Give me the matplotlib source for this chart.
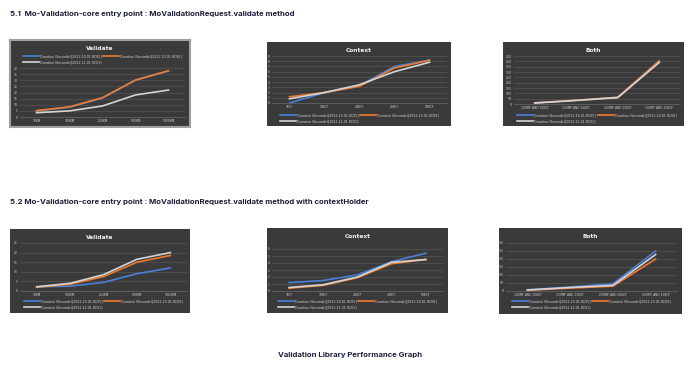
import matplotlib
matplotlib.use("Agg")
import matplotlib.pyplot as plt

# series labels shared by every panel
series_labels = [
    "Duration (Seconds)[2022.10.01 RC05]",
    "Duration (Seconds)[2022.10.01 RC06]",
    "Duration (Seconds)[2022.11.01 RC01]",
]

validate_cats = ["10KM", "100KM", "250KM", "500KM", "1000KM"]
context_cats = ["1KCF", "10KCF", "20KCF", "40KCF", "50KCF"]
both_cats = ["100MF AND 10KCF", "150MF AND 15KCF", "200MF AND 20KCF", "500MF AND 50KCF"]

# 5.1 plain validate
v1_blue = [5.0, 8.0, 15.5, 30.0, 37.5]
v1_orange = [5.2, 8.3, 15.8, 30.2, 37.8]
v1_gray = [3.5, 5.0, 9.0, 18.0, 22.0]
c1_blue = [0.0, 2.0, 3.3, 7.0, 8.2]
c1_orange = [1.2, 2.0, 3.2, 6.7, 8.2]
c1_gray = [0.8, 2.0, 3.5, 6.0, 7.8]
b1_blue = [10, 35, 62, 400]
b1_orange = [11, 36, 63, 405]
b1_gray = [9, 33, 60, 390]

# 5.2 with contextHolder
v2_blue = [2.2, 2.5, 4.5, 9.0, 12.0]
v2_orange = [2.0, 3.5, 7.5, 15.0, 18.5]
v2_gray = [2.2, 4.0, 8.5, 16.5, 20.0]
c2_blue = [1.2, 1.5, 2.3, 4.2, 5.4]
c2_orange = [0.4, 0.8, 1.9, 3.9, 4.5]
c2_gray = [0.5, 0.9, 2.0, 4.1, 4.5]
b2_blue = [8, 25, 45, 250]
b2_orange = [5, 18, 30, 200]
b2_gray = [6, 22, 35, 228]

W, H = 700, 369
fig = plt.figure(figsize=(7, 3.69), dpi=100)
fig.patch.set_facecolor("white")

COLORS = ["#4a7fd8", "#ee7a2e", "#d4d4d4"]
TXT = "#d0d0d0"
NAVY = "#1c1f3b"


def rect(x0, y0, x1, y1):
    # pixel box (top-left origin) -> figure fraction
    return [x0 / W, 1 - y1 / H, (x1 - x0) / W, (y1 - y0) / H]


def chart(panel, plot, title, cats, series, ymax, ystep, legend_top, border=False):
    bg = fig.add_axes(rect(*panel))
    bg.set_facecolor("#3a3a3a")
    bg.set_xticks([])
    bg.set_yticks([])
    for s in bg.spines.values():
        s.set_visible(border)
        s.set_color("#a0a0a0")
        s.set_linewidth(1.5)
    bg.text(0.5, 0.90, title, transform=bg.transAxes, ha="center", va="center",
            color="#f0f0f0", fontsize=4.2, fontweight="bold")

    ax = fig.add_axes(rect(*plot))
    ax.set_facecolor("none")
    x = range(len(cats))
    handles = []
    for vals, col, lab in zip(series, COLORS, series_labels):
        h, = ax.plot(x, vals, color=col, lw=1.2, label=lab)
        handles.append(h)
    ax.set_xlim(-0.5, len(cats) - 0.5)
    ax.set_ylim(0, ymax)
    ax.set_yticks(range(0, ymax + 1, ystep))
    ax.set_xticks(list(x))
    ax.set_xticklabels(cats)
    ax.tick_params(colors=TXT, labelsize=2.2, length=0, pad=1.5)
    ax.grid(axis="y", color="#555555", lw=0.5)
    ax.set_axisbelow(True)
    for s in ax.spines.values():
        s.set_visible(False)
    ax.spines["bottom"].set_visible(True)
    ax.spines["bottom"].set_color("#6a6a6a")
    ax.spines["bottom"].set_linewidth(0.5)

    # legend: blue, orange on first row, gray on second
    order = [handles[0], handles[2], handles[1]]
    ly = 1 - legend_top / H
    lx = (plot[0] + plot[2]) / 2 / W
    fig.legend(order, [h.get_label() for h in order], ncol=2, loc="upper center",
               bbox_to_anchor=(lx, ly), frameon=False, fontsize=2.3,
               labelcolor=TXT, handlelength=5, handletextpad=0.3,
               columnspacing=0.6, labelspacing=0.5, borderpad=0)


fig.text(10 / W, 1 - 14 / H, "5.1  Mo-Validation-core entry point : MoValidationRequest.validate method",
         fontsize=5.6, fontweight="bold", color=NAVY, family="Inter", va="center")
fig.text(10 / W, 1 - 202 / H, "5.2 Mo-Validation-core entry point : MoValidationRequest.validate method with contextHolder",
         fontsize=5.6, fontweight="bold", color=NAVY, family="Inter", va="center")
fig.text(350 / W, 1 - 355 / H, "Validation Library Performance Graph",
         fontsize=5.6, fontweight="bold", color=NAVY, family="Inter", va="center", ha="center")

chart((10, 40, 190, 127), (20, 68, 185, 117), "Validate", validate_cats,
      [v1_blue, v1_orange, v1_gray], 40, 5, 53, border=True)
chart((267, 42, 451, 126), (272, 56, 447, 103), "Context", context_cats,
      [c1_blue, c1_orange, c1_gray], 9, 1, 112)
chart((503, 42, 684, 126), (514, 56, 680, 104), "Both", both_cats,
      [b1_blue, b1_orange, b1_gray], 450, 50, 112)

chart((10, 229, 190, 313), (20, 243, 187, 291), "Validate", validate_cats,
      [v2_blue, v2_orange, v2_gray], 25, 5, 298)
chart((267, 228, 448, 313), (272, 249, 443, 291), "Context", context_cats,
      [c2_blue, c2_orange, c2_gray], 6, 1, 298)
chart((499, 228, 682, 314), (506, 243, 677, 291), "Both", both_cats,
      [b2_blue, b2_orange, b2_gray], 300, 50, 298)

fig.savefig("out.png", dpi=100, facecolor="white")
